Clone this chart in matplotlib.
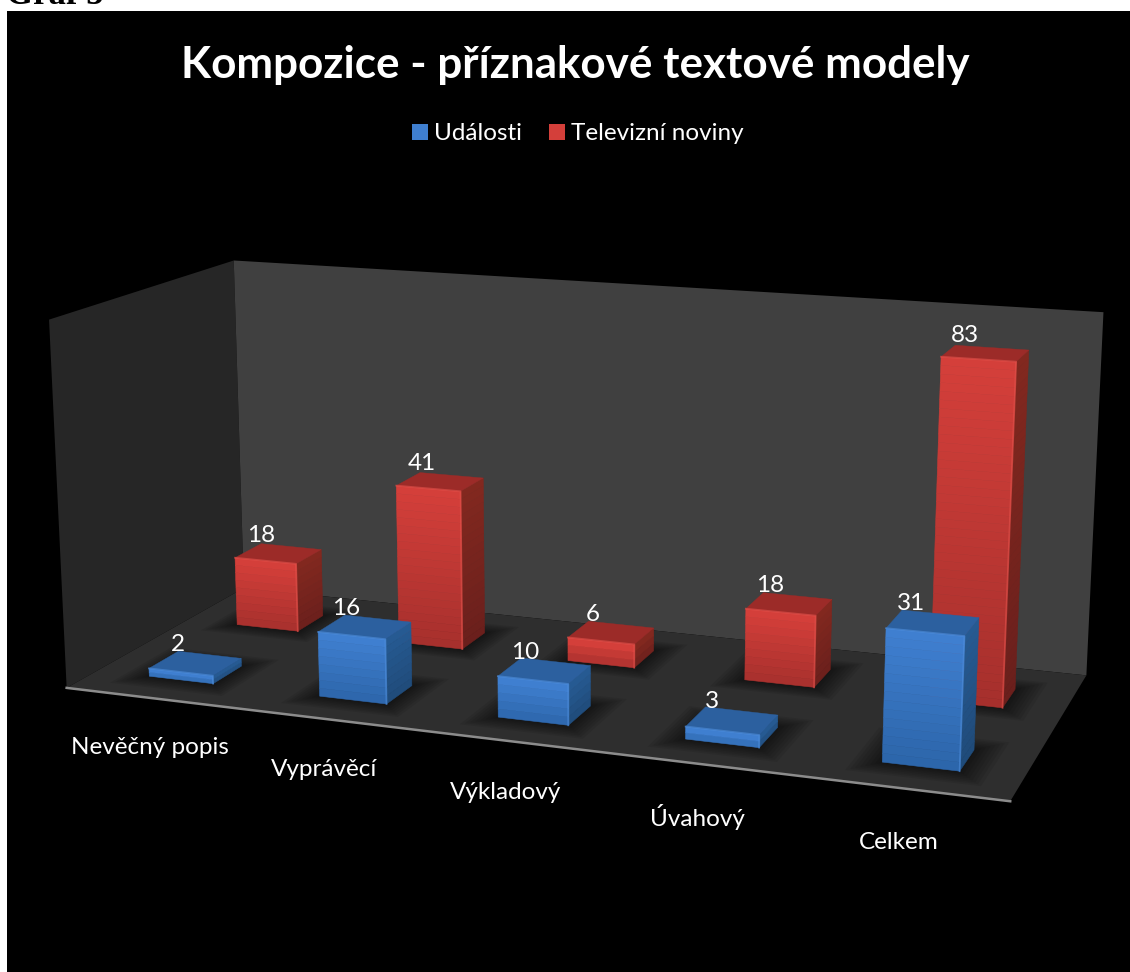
import matplotlib
matplotlib.use('Agg')
import matplotlib.pyplot as plt
from matplotlib.patches import Patch, Rectangle
from mpl_toolkits.mplot3d.art3d import Poly3DCollection
import numpy as np

categories = ['Nevěčný popis', 'Vyprávěcí', 'Výkladový', 'Úvahový', 'Celkem']
udalosti = [2, 16, 10, 3, 31]
televizni = [18, 41, 6, 18, 83]

W, H = 1130, 972
plt.rcParams['font.family'] = ['Lato', 'DejaVu Sans']
NONE = (0, 0, 0, 0)


def mix(a, b, t):
    a = np.array(matplotlib.colors.to_rgb(a))
    b = np.array(matplotlib.colors.to_rgb(b))
    return tuple(a + (b - a) * t)


def shadow(ax, x0, x1, y0, y1):
    # soft dark patch on the floor round the foot of a bar
    for grow in np.linspace(0.14, 0.01, 8):
        gy = grow * 1.2
        poly = [[(x0 - grow, y0 - gy, 0), (x1 + grow, y0 - gy, 0),
                 (x1 + grow, y1 + gy, 0), (x0 - grow, y1 + gy, 0)]]
        ax.add_collection3d(Poly3DCollection(poly, facecolors=[(0, 0, 0, 0.08)],
                                             edgecolors='none', zorder=1))


def draw_bar(ax, i, y0, value, front_top, front_bottom, side_top, side_bottom, top, rim, z):
    x0, dx, dy = i + 0.31, 0.38, 0.32
    edges = np.linspace(0, value, max(2, int(value / 2)) + 1)
    order = z
    for k in range(len(edges) - 1):
        b, t = edges[k], edges[k + 1]
        front = mix(front_bottom, front_top, t / value)
        side = mix(side_bottom, side_top, t / value)
        # order of faces: bottom, top, front, back, left, right
        cols = [NONE, NONE, front, NONE, NONE, side]
        ax.bar3d([x0], [y0], [b], [dx], [dy], [t - b], color=cols, edgecolor=cols,
                 linewidth=0.4, shade=False, zorder=order)
        order += 0.001
    cols = [NONE, top, NONE, NONE, NONE, NONE]
    ax.bar3d([x0], [y0], [value], [dx], [dy], [0], color=cols, edgecolor=cols,
             linewidth=0.3, shade=False, zorder=order)
    ax.plot([x0, x0 + dx, x0 + dx], [y0, y0, y0], [value, value, 0], color=rim, lw=1.3,
            alpha=0.6, zorder=order + 0.01)
    ax.text(x0 + dx * 0.22, y0 + dy * 0.5, value + 1.5, str(value), color='white', fontsize=17.5,
            ha='center', va='bottom', zorder=50)


fig = plt.figure(figsize=(W / 100, H / 100), dpi=100, facecolor='white')
fig.patches.append(Rectangle((7 / W, 0), 1 - 7 / W, 1 - 11 / H, transform=fig.transFigure,
                             facecolor='black', edgecolor='none', zorder=-10))
fig.text(6 / W, 1 - 4 / H, 'Graf 5', family='Liberation Serif', fontweight='bold', fontsize=25,
         color='black', ha='left', va='baseline', zorder=-20)

S = 1200
ax = fig.add_axes([-36 / W, -146 / H, S / W, S / H], projection='3d', computed_zorder=False)
ax.patch.set_alpha(0)
ax.view_init(elev=14, azim=-70)
ax.set_proj_type('persp', focal_length=0.42)
ax.set_box_aspect((4.0, 1.64, 1.57), zoom=0.893)
ax.set_xlim(0, 5, view_margin=0)
ax.set_ylim(0, 2, view_margin=0)
ax.set_zlim(0, 90, view_margin=0)
ax.set_xticks([])
ax.set_yticks([])
ax.set_zticks([])
ax.grid(False)
ax.xaxis.set_pane_color('#262626')
ax.yaxis.set_pane_color('#404040')
ax.zaxis.set_pane_color('#2e2e2e')
for axis in [ax.xaxis, ax.yaxis, ax.zaxis]:
    axis.line.set_color((0, 0, 0, 0))
    axis.pane.set_edgecolor('none')

ax.plot([0, 5], [0, 0], [0, 0], color='#8c8c8c', lw=1.8, zorder=1)

for i in range(len(categories)):
    shadow(ax, i + 0.31, i + 0.69, 1.32, 1.64)
    shadow(ax, i + 0.31, i + 0.69, 0.32, 0.64)
    draw_bar(ax, i, 1.32, televizni[i], '#d43f3a', '#a52f2c', '#82281f', '#6a1f1c', '#9c2b28', '#e8524c', 5 + i)
    draw_bar(ax, i, 0.32, udalosti[i], '#3f7fd0', '#2b64a8', '#265a92', '#1f4a78', '#2c609f', '#4f90e0', 20 + i)
    ax.text(i + 0.48, 0, -12.5, categories[i], color='white', fontsize=17.5,
            ha='center', va='center', zorder=60)

fig.text(575 / W, 1 - 65 / H, 'Kompozice - příznakové textové modely', color='white',
         fontsize=31.7, fontweight='bold', ha='center', va='center')
fig.legend(handles=[Patch(facecolor='#3f7fd0', label='Události'),
                    Patch(facecolor='#d43f3a', label='Televizní noviny')],
           loc='center', bbox_to_anchor=(578 / W, 1 - 134 / H), ncol=2, frameon=False,
           labelcolor='white', fontsize=17.5, handlelength=0.65, handleheight=0.65,
           handletextpad=0.25, columnspacing=1.1)

fig.savefig('out.png', dpi=100)
